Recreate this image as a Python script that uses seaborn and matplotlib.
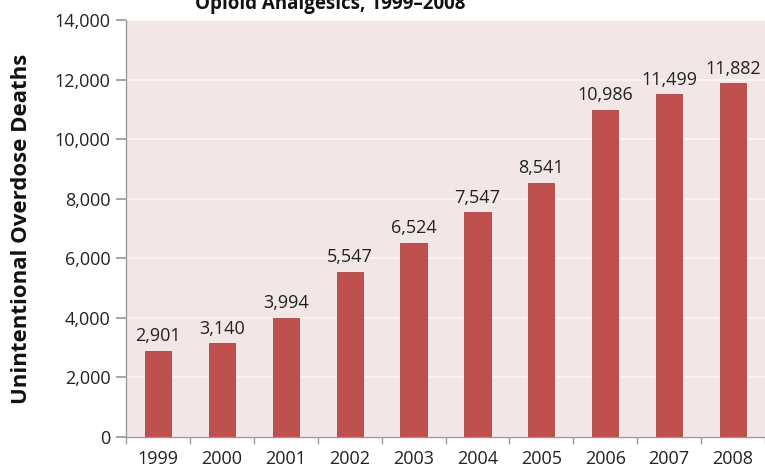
import matplotlib
matplotlib.use("Agg")
import matplotlib.pyplot as plt
import seaborn as sns
import pandas as pd
from matplotlib.ticker import FuncFormatter, FixedLocator

years = ["1999", "2000", "2001", "2002", "2003", "2004", "2005", "2006", "2007", "2008"]
deaths = [2901, 3140, 3994, 5547, 6524, 7547, 8541, 10986, 11499, 11882]
title = "Opioid Analgesics, 1999\u20132008"
ylabel = "Unintentional Overdose Deaths"

df = pd.DataFrame({"year": years, "deaths": deaths})

sns.set_theme(style="white")
plt.rcParams["font.family"] = ["Open Sans", "DejaVu Sans"]

fig = plt.figure(figsize=(7.65, 4.73), dpi=100)
ax = fig.add_axes([126/765, 1-437/473, 1-126/765, (437-20)/473])
ax.set_facecolor("#F2E6E6")

sns.barplot(data=df, x="year", y="deaths", color="#C0504D", width=0.41,
            saturation=1, edgecolor="#A94442", linewidth=0.6, ax=ax, zorder=3)

ax.set_ylim(0, 14000)
ax.set_xlim(-0.5, len(years) - 0.5)
ax.yaxis.set_major_locator(FixedLocator(range(0, 14001, 2000)))
ax.yaxis.set_major_formatter(FuncFormatter(lambda v, p: f"{int(v):,}"))
ax.grid(axis="y", color="#FAF5F5", linewidth=1.2, zorder=0)
ax.set_axisbelow(True)

for c in ax.containers:
    ax.bar_label(c, labels=[f"{v:,}" for v in deaths], padding=4,
                 fontsize=13, color="#222222")

ax.set_xlabel("")
ax.set_ylabel(ylabel, fontsize=16, fontweight="bold", color="#111111", labelpad=16)

ax.tick_params(axis="x", which="major", length=0, pad=9, labelsize=13, labelcolor="#222222")
ax.set_xticks([i - 0.5 for i in range(len(years) + 1)], minor=True)
ax.tick_params(axis="x", which="minor", length=5, color="#9A9A9A", direction="out", bottom=True)
ax.tick_params(axis="y", length=7, color="#9A9A9A", direction="out", left=True,
               labelsize=13, labelcolor="#222222", pad=4)

for s in ["top", "right"]:
    ax.spines[s].set_visible(False)
for s in ["left", "bottom"]:
    ax.spines[s].set_color("#9A9A9A")
    ax.spines[s].set_linewidth(1)

fig.text(330/765, 1 - 9/473, title, ha="center", va="baseline",
         fontsize=13.5, fontweight="bold", color="#111111")

fig.savefig("out.png", dpi=100, facecolor="white")
